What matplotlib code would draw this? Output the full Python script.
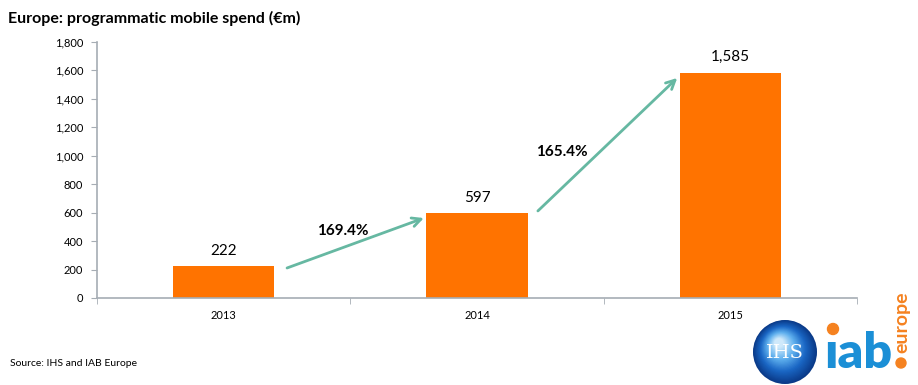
import matplotlib
matplotlib.use("Agg")
import matplotlib.pyplot as plt
from matplotlib.patches import Circle
from matplotlib.colors import LinearSegmentedColormap

# ------------------- DATA ------------------- #

years = ["2013", "2014", "2015"]
spend = [222, 597, 1585]
growth = ["169.4%", "165.4%"]
yticks = [0, 200, 400, 600, 800, 1000, 1200, 1400, 1600, 1800]

BAR = "#ff7300"
ARROW = "#66b8a2"
AXIS = "#a6adb4"

plt.rcParams["font.family"] = ["Lato", "DejaVu Sans"]

# ------------------- CHART ------------------- #

fig = plt.figure(figsize=(9.18, 3.85), dpi=100)
ax = fig.add_axes([0.1057, 0.226, 0.828, 0.665])

x = list(range(len(years)))
ax.bar(x, spend, width=0.4, color=BAR, zorder=2)

ax.set_xlim(-0.5, len(years) - 0.5)
ax.set_ylim(0, 1800)
ax.set_yticks(yticks)
ax.set_yticklabels([f"{v:,}" for v in yticks], fontsize=8)
ax.set_xticks(x)
ax.set_xticklabels(years, fontsize=8)
ax.tick_params(axis="x", length=0, pad=9)
ax.tick_params(axis="y", length=4, color=AXIS, pad=6)
# category boundary ticks on the x axis
ax.set_xticks([i - 0.5 for i in range(len(years) + 1)], minor=True)
ax.tick_params(axis="x", which="minor", length=4, color=AXIS)

for s in ["top", "right"]:
    ax.spines[s].set_visible(False)
for s in ["left", "bottom"]:
    ax.spines[s].set_color(AXIS)
    ax.spines[s].set_linewidth(1.2)

# value labels
for xi, v in zip(x, spend):
    ax.annotate(f"{v:,}", (xi, v), xytext=(0, 6), textcoords="offset points",
                ha="center", va="bottom", fontsize=11)

# growth arrows
starts = [(0.25, spend[0] - 11), (1.24, spend[1] + 15)]
ends = [(0.79, spend[1] - 35), (1.79, spend[2] - 38)]
label_pos = [(0.47, 471), (1.336, 1027)]
for (s, e, lp, g) in zip(starts, ends, label_pos, growth):
    ax.annotate("", xy=e, xytext=s,
                arrowprops=dict(arrowstyle="->", color=ARROW, lw=2,
                                mutation_scale=16, shrinkA=0, shrinkB=0))
    ax.text(lp[0], lp[1], g, ha="center", va="center", fontsize=11,
            fontweight="bold")

# title and source
fig.text(0.009, 0.953, "Europe: programmatic mobile spend (\u20acm)",
         fontsize=11.5, fontweight="bold", ha="left", va="center")
fig.text(0.011, 0.055, "Source: IHS and IAB Europe", fontsize=7.5,
         ha="left", va="center")

# logos (approximate), axes in pixel units
lx = fig.add_axes([734 / 918, 0.0, 184 / 918, 100 / 385])
lx.set_xlim(0, 184)
lx.set_ylim(0, 100)
lx.set_aspect("equal")
lx.axis("off")
shade = LinearSegmentedColormap.from_list("globe", ["#0a3a88", "#1a66c4", "#5fb0ee", "#cfe9fb"])
n = 30
for k in range(n):
    f = k / (n - 1)
    r = 32 * (1 - 0.85 * f)
    lx.add_patch(Circle((51 - 6 * f, 33 + 9 * f), r, color=shade(f), lw=0))
lx.text(51, 32, "IHS", color="white", fontsize=14, family="DejaVu Serif",
        ha="center", va="center")
lx.text(124, 17, "\u0131ab", color="#1b8fd6", fontsize=36, fontweight="heavy",
        ha="center", va="baseline")
lx.add_patch(Circle((99, 56), 5.5, color="#f58220"))
lx.text(168, 63, "europe", color="#f58220", fontsize=14, fontweight="bold",
        rotation=90, ha="center", va="center")
lx.add_patch(Circle((167, 22), 5, color="#f58220"))

fig.savefig("out.png", dpi=100)
